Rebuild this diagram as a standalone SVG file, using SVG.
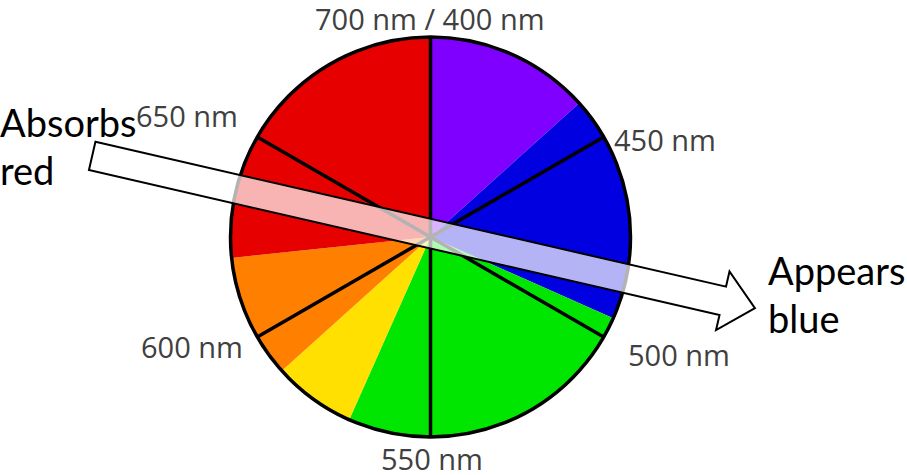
<svg xmlns="http://www.w3.org/2000/svg" width="907" height="475" viewBox="0 0 907 475">
<style>
.lbl{font-family:"Open Sans","DejaVu Sans",sans-serif;font-size:29px;fill:#404040}
.big{font-family:Lato,"Liberation Sans",sans-serif;font-size:38px;fill:#000}
.div{stroke:#000;stroke-width:3.5;fill:none}
</style>
<rect width="907" height="475" fill="#fff"/>
<g id="pie">
<path d="M430.5 237 L430.5 37 A200 200 0 0 1 579.1 103.2 Z" fill="#8000FF"/>
<path d="M430.5 237 L579.1 103.2 A200 200 0 0 1 613.2 318.3 Z" fill="#0000E0"/>
<path d="M430.5 237 L613.2 318.3 A200 200 0 0 1 349.2 419.7 Z" fill="#00E600"/>
<path d="M430.5 237 L349.2 419.7 A200 200 0 0 1 281.9 370.8 Z" fill="#FFE000"/>
<path d="M430.5 237 L281.9 370.8 A200 200 0 0 1 231.6 257.9 Z" fill="#FF8000"/>
<path d="M430.5 237 L231.6 257.9 A200 200 0 0 1 430.5 37 Z" fill="#E60000"/>
<path class="div" d="M430.5 37 L430.5 437 M603.7 137 L257.3 337 M603.7 337 L257.3 137"/>
<circle class="div" cx="430.5" cy="237" r="200"/>
</g>
<g id="connectors">
<path d="M0 -14.5 L647 -14.5 L647 -30 L680 0 L647 30 L647 14.5 L0 14.5 Z" transform="translate(92.2 155.9) rotate(12.94)" fill="#fff" fill-opacity="0.7" stroke="#000" stroke-width="2" stroke-linejoin="miter"/>
</g>
<g id="labels">
<text class="lbl" x="315" y="30">700 nm / 400 nm</text>
<text class="lbl" x="136" y="127">650 nm</text>
<text class="lbl" x="614" y="151">450 nm</text>
<text class="lbl" x="141" y="358">600 nm</text>
<text class="lbl" x="381" y="470">550 nm</text>
<text class="lbl" x="628" y="366">500 nm</text>
</g>
<g id="absorbs">
<text class="big" x="0" y="137">Absorbs</text>
<text class="big" x="0" y="185">red</text>
</g>
<g id="appears">
<text class="big" x="768" y="285">Appears</text>
<text class="big" x="768" y="333">blue</text>
</g>
</svg>
